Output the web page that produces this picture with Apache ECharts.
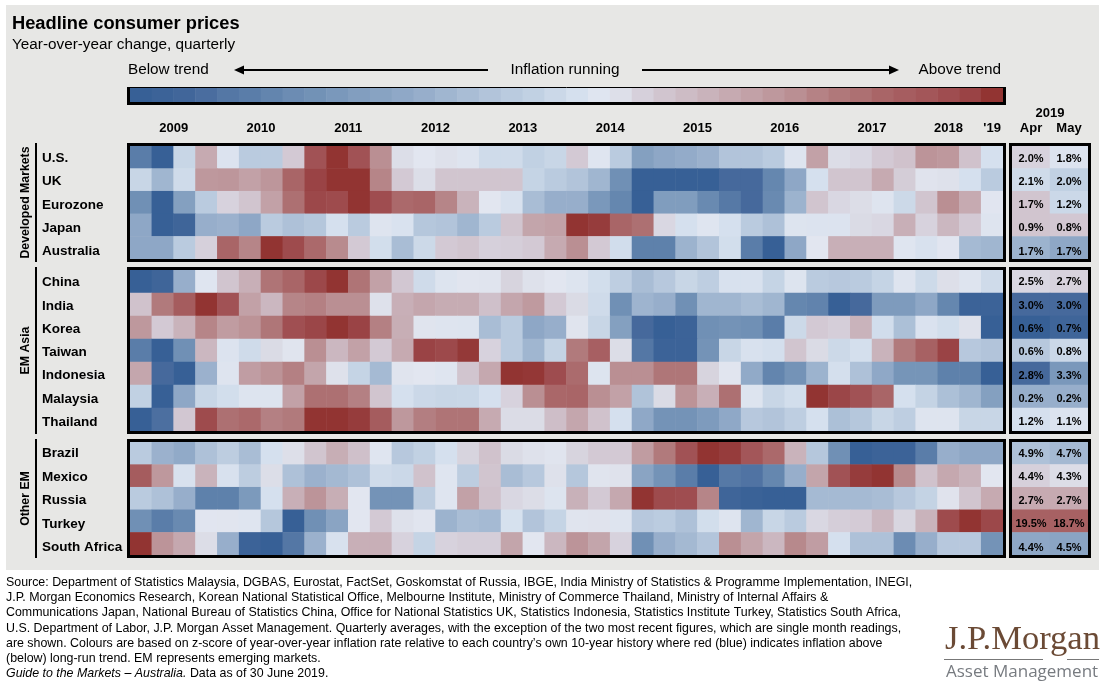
<!DOCTYPE html>
<html><head><meta charset="utf-8">
<style>html,body{margin:0;padding:0;background:#fff}#c{width:1105px;height:686px}</style>
<script src="https://cdn.jsdelivr.net/npm/echarts@6/dist/echarts.min.js"></script>
</head><body><div id="c"></div>
<script>
const developed = ['U.S.','UK','Eurozone','Japan','Australia'];
const emAsia = ['China','India','Korea','Taiwan','Indonesia','Malaysia','Thailand'];
const otherEm = ['Brazil','Mexico','Russia','Turkey','South Africa'];
const yearTicks = [2,6,10,14,18,22,26,30,34,37.5,39.5];
const yearLabels = ['2009','2010','2011','2012','2013','2014','2015','2016','2017','2018',"'19"];
const monthLabels = ['Apr','May'];
const legendZ = [-10,-9.7,-9.3,-8.8,-8.3,-8,-7.6,-7.2,-6.9,-6.5,-6.1,-5.8,-5.4,-5,-4.5,-4,-3.5,-3,-2.5,-1.8,-1,-0.2,0.6,1.6,2.2,2.6,3,3.5,4,4.5,5,5.6,6.1,6.5,7,7.4,7.8,8.3,9,10];
const colorStops = ['#376096','#46699c','#5a7da9','#7090b5','#84a0c0','#97aecb','#a9bdd5','#bacbdf','#c8d6e6','#d5e0ee','#e2e6f0','#dadbe5','#d3c9d4','#c9b3bb','#c2a1a7','#ba8f93','#b17a7c','#a96567','#a15255','#9a4345','#923432'];

const usZ = [-8,-10,-2,3.5,-0.5,-3,-3,2,8,10,8,5,0.7,0,0.5,-0.3,-1.5,-1.5,-2.5,-2,2,-0.2,-3,-6,-5.5,-5.2,-4.8,-3.5,-3.5,-3,-0.3,4,0.8,1.2,2,2.3,4.7,4.5,2.3,-1];
const ukZ = [-2,-4.5,-1.5,4.5,4.6,4,4.6,7,9,10,10,5.5,2,0.7,2.2,2.2,2.2,2.2,-2.2,-3,-3.5,-4.5,-7,-10,-10,-10,-10,-9,-9,-7.5,-5.5,-1,2.2,2.2,3.5,1.8,0.3,0.5,-1,-3];
const eurozoneZ = [-7,-10,-6,-3,1.5,2.2,4,6.5,8.7,8.5,10,8.3,6.8,7,5.5,3,0,-0.8,-4,-5,-5,-6.5,-7.5,-10,-6.2,-6.2,-7.3,-8.2,-9,-7.3,-4.7,2.2,1.2,0.8,-0.3,-1.7,2.2,5,3.5,-0.1];
const japanZ = [-5.5,-10,-9.5,-5,-4.8,-5.5,-3,-3.7,-3.3,-1,-3,-0.3,-0.7,-3.3,-3.5,-4.5,-3,2.2,3.8,4,10,9.5,7,6.5,1.2,-1,-0.2,-1,-3,-3.7,-0.4,-0.5,-0.5,1,1.2,3.2,1.5,2.8,2,-0.3];
const australiaZ = [-5.5,-5.5,-3,1.6,7,5.5,10,8.5,6.8,5.2,2,-1.2,-4,-1.7,2,2.2,1.6,1.7,2,3.5,5,2,-1.3,-7.8,-7.8,-4.7,-3.5,-1.2,-8,-10,-5.5,0,3.2,3.2,3.2,-0.2,-0.8,-0.1,-4.2,-4.5];
const chinaZ = [-10,-9.5,-5,-0.2,2.2,3.2,6.3,7,8.7,10,6.3,4,2.1,-1.5,-0.4,0.1,0.2,1.4,0.5,0,-0.4,-1.2,-2.7,-4,-3.2,-2,-2.7,-0.8,-0.8,-2.2,-0.4,-3,-3.2,-3,-2.2,-0.3,-1.6,0.6,-0.3,-1.5];
const indiaZ = [2.3,6,7.5,10,8,4,2.8,5.5,5.7,5,5,0.5,3.2,3.7,3.4,3.4,2.4,3.7,4.4,2,1,-1.5,-7,-4.6,-5,-7,-4.5,-4.5,-4,-4.5,-7.5,-7.7,-10,-9,-6.3,-6.3,-5.5,-7.5,-9.7,-9.7];
const koreaZ = [4.5,2,3,5.5,4.3,4.8,6.2,8.2,8.8,10,9,5.7,3.3,0.2,-0.3,-0.4,-4,-3,-5.5,-5,0.2,-2,-6,-9,-10,-9.7,-7,-6.8,-7,-8,-1.7,2,1.7,3,-1.3,-3.8,-0.6,-1.2,0.5,-10];
const taiwanZ = [-8,-10,-7,2.8,-0.5,-1.5,1,0.2,5,2.8,4,2,3.5,9,8.6,9.7,1.5,-3,-4.5,-2.3,6,7.3,0.8,-8.3,-9.7,-9.7,-6.8,-2,-0.8,-1.1,2.2,1,-1.7,-1.1,3,6,7.2,9,-3.2,-3.5];
const indonesiaZ = [3.7,-9,-10,-4.8,-0.3,4.2,4.8,5.7,3.8,0.5,-2.2,-4.2,0.2,0,-0.2,2.2,3.6,10,9.8,8.4,6.7,-0.4,5,5,6.2,6.2,1.4,0.1,-5.3,-7.6,-6.8,-4.7,-1.1,-3.7,-5.4,-6.7,-6.7,-7.8,-7.8,-10];
const malaysiaZ = [-2.5,-10,-5.5,-2,-1.2,-0.4,-0.4,4,6.5,6.5,5.7,2.2,-1,-1.8,-2,-1.9,-1,1.5,5,6.9,7,5,4,-3.6,1,4.8,3.2,6.5,-0.4,-2,-1.2,10,8.8,8,7,-1,-2.3,-3.8,-4.5,-6];
const thailandZ = [-10,-8.7,2.1,8.5,6.5,6.8,5.7,6,10,10,9.5,7.5,4.5,5.8,6.3,6.3,3.5,0.9,0.9,2.5,3.7,2.3,-1,-5.4,-6.8,-6.8,-6.3,-5.4,-3.2,-3.5,-2.7,-1,-3.8,-3.3,-2,-2.7,-0.3,-0.3,-2,-2];
const brazilZ = [-3,-4.8,-5.3,-3.7,-2.8,-4,-1,0.6,2.2,3.3,2.4,-0.2,-3.2,-2.5,-1,1.4,2.3,1,0.5,0.2,1.4,2,2,4.3,6,8,10,9.5,7.8,6.8,3,-3.3,-7,-10,-9.7,-9.7,-8,-5,-5.5,-5.5];
const mexicoZ = [7.5,4.5,-0.8,3,-0.8,-2.8,0.7,-3.7,-4.8,-4.3,-3.7,-1.5,-1.8,2.3,-0.2,-2.8,2.2,-4,-3.2,0.5,-3.3,0.2,0.4,-5.7,-6.8,-8,-10,-8.2,-8.5,-7.5,-5,3.8,8,9.5,10,5.2,2.3,3.6,3,0];
const russiaZ = [-3,-3.7,-5,-7.8,-7.8,-6.4,-1,3.2,4.7,3.3,0,-6.8,-6.8,-2.8,-0.2,4,2.3,1.2,0.8,-0.4,3.1,2,3.6,10,8.5,8.3,5.5,-9.5,-9.8,-10,-10,-4.2,-4.2,-4.2,-4,-3.2,-2.3,0.3,2.2,3.5];
const turkeyZ = [-7,-8,-7.3,-0.1,0.1,-0.2,-3.3,-10,-7,-5.7,0,2,0.5,0.1,-4.7,-4,-4.2,-0.9,-3.5,-2.2,0.2,0.3,-0.3,-3.2,-2.9,-3.7,-1.2,-0.3,-4.5,-2,-3,1.2,1.7,1.9,2.8,1.3,3,8.5,10,8.7];
const southAfricaZ = [10,4.7,3.6,0.8,-5,-9.7,-10,-8.3,-4.8,-0.8,3.2,3.2,1.5,-2.2,1.5,1.7,1.7,3.8,0,2.8,4.7,3.8,1.5,-7,-5,-4.3,-3.4,5,3.8,2.8,5.3,4.2,-1,-3.7,-3.7,-7.2,-5,-3.2,-3.2,-6.8];

const developedZ = [usZ,ukZ,eurozoneZ,japanZ,australiaZ];
const emAsiaZ = [chinaZ,indiaZ,koreaZ,taiwanZ,indonesiaZ,malaysiaZ,thailandZ];
const otherEmZ = [brazilZ,mexicoZ,russiaZ,turkeyZ,southAfricaZ];

const developedRecent = [['2.0%','1.8%'],['2.1%','2.0%'],['1.7%','1.2%'],['0.9%','0.8%'],['1.7%','1.7%']];
const emAsiaRecent = [['2.5%','2.7%'],['3.0%','3.0%'],['0.6%','0.7%'],['0.6%','0.8%'],['2.8%','3.3%'],['0.2%','0.2%'],['1.2%','1.1%']];
const otherEmRecent = [['4.9%','4.7%'],['4.4%','4.3%'],['2.7%','2.7%'],['19.5%','18.7%'],['4.4%','4.5%']];
const developedRecentZ = [[1.5,-0.5],[-1.5,-2.5],[2.2,-1.8],[2.2,2.1],[-4.7,-5.5]];
const emAsiaRecentZ = [[1.2,1.5],[-9,-9],[-10,-9.5],[-3.2,-1.8],[-9,-6.5],[-5,-5],[-1,-0.5]];
const otherEmRecentZ = [[-3.7,-4.3],[1.6,0.8],[3.5,3.5],[7.2,7.2],[-5.5,-5.7]];

const sourceLines = [
 'Source: Department of Statistics Malaysia, DGBAS, Eurostat, FactSet, Goskomstat of Russia, IBGE, India Ministry of Statistics & Programme Implementation, INEGI,',
 'J.P. Morgan Economics Research, Korean National Statistical Office, Melbourne Institute, Ministry of Commerce Thailand, Ministry of Internal Affairs &',
 'Communications Japan, National Bureau of Statistics China, Office for National Statistics UK, Statistics Indonesia, Statistics Institute Turkey, Statistics South Africa,',
 'U.S. Department of Labor, J.P. Morgan Asset Management. Quarterly averages, with the exception of the two most recent figures, which are single month readings,',
 'are shown. Colours are based on z-score of year-over-year inflation rate relative to each country\u2019s own 10-year history where red (blue) indicates inflation above',
 '(below) long-run trend. EM represents emerging markets.'
];

const FONT = 'Arial, "Liberation Sans", sans-serif';
const mainL = 130, mainW = 873, sideL = 1012, sideW = 76;
const bands = [
 {names:developed, z:developedZ, rec:developedRecent, recZ:developedRecentZ, top:146, h:113, labelTop:146.9, labelH:116.25, label:'Developed Markets'},
 {names:emAsia, z:emAsiaZ, rec:emAsiaRecent, recZ:emAsiaRecentZ, top:270, h:161, labelTop:270.8, labelH:163.3, label:'EM Asia'},
 {names:otherEm, z:otherEmZ, rec:otherEmRecent, recZ:otherEmRecentZ, top:442, h:113, labelTop:441.75, labelH:117.5, label:'Other EM'}
];
const quarterCats = legendZ.map((_, i) => i);

const grids=[], xAxes=[], yAxes=[], series=[], graphics=[];
const colored=[];
function frame(x,y,w,h,lw){
  graphics.push({type:'rect',z:100,silent:true,shape:{x:x-lw/2,y:y-lw/2,width:w+lw,height:h+lw},style:{fill:'none',stroke:'#000',lineWidth:lw}});
}
function addHeat(d,extra){
  colored.push(series.length);
  series.push(Object.assign({type:'heatmap',xAxisIndex:xAxes.length-1,yAxisIndex:yAxes.length-1,data:d,silent:true,progressive:0},extra||{}));
}
bands.forEach((b,bi)=>{
  grids.push({left:mainL,top:b.top,width:mainW,height:b.h});
  let gi=grids.length-1;
  xAxes.push({type:'category',gridIndex:gi,data:quarterCats,show:false});
  yAxes.push({type:'category',gridIndex:gi,data:b.names,inverse:true,show:false});
  const d=[];
  b.z.forEach((row,r)=>row.forEach((v,c)=>d.push([c,r,v])));
  addHeat(d);
  frame(mainL,b.top,mainW,b.h,3);
  grids.push({left:mainL,top:b.labelTop,width:mainW,height:b.labelH});
  gi=grids.length-1;
  xAxes.push({type:'category',gridIndex:gi,data:quarterCats,show:false});
  yAxes.push({type:'category',gridIndex:gi,data:b.names,inverse:true,
    axisLine:{show:false},axisTick:{show:false},splitLine:{show:false},
    axisLabel:{align:'left',margin:88,color:'#000',fontFamily:FONT,fontWeight:'bold',fontSize:13.5}});
  grids.push({left:sideL,top:b.top,width:sideW,height:b.h});
  gi=grids.length-1;
  xAxes.push(bi===0?{type:'category',gridIndex:gi,data:monthLabels,position:'top',
      name:'2019',nameLocation:'middle',nameGap:26,nameTextStyle:{color:'#000',fontFamily:FONT,fontWeight:'bold',fontSize:13},
      axisLine:{show:false},axisTick:{show:false},
      axisLabel:{margin:11,color:'#000',fontFamily:FONT,fontWeight:'bold',fontSize:13}}
    :{type:'category',gridIndex:gi,data:monthLabels,show:false});
  yAxes.push({type:'category',gridIndex:gi,data:b.names,inverse:true,show:false});
  const s=[];
  b.recZ.forEach((row,r)=>row.forEach((v,c)=>s.push([c,r,v])));
  addHeat(s);
  frame(sideL,b.top,sideW,b.h,3);
  grids.push({left:sideL,top:b.labelTop,width:sideW,height:b.labelH});
  gi=grids.length-1;
  xAxes.push({type:'category',gridIndex:gi,data:monthLabels,show:false});
  yAxes.push({type:'category',gridIndex:gi,data:b.names,inverse:true,show:false});
  const t=[];
  b.rec.forEach((row,r)=>row.forEach((v,c)=>t.push([c,r,v])));
  series.push({type:'scatter',xAxisIndex:xAxes.length-1,yAxisIndex:yAxes.length-1,data:t,symbolSize:1,silent:true,z:5,
    itemStyle:{color:'rgba(0,0,0,0)',opacity:1},
    label:{show:true,position:'inside',opacity:1,formatter:p=>p.data[2],color:'#000',fontFamily:FONT,fontWeight:'bold',fontSize:11}});
  graphics.push({type:'line',shape:{x1:36,y1:b.top-3,x2:36,y2:b.top+b.h+3},style:{stroke:'#000',lineWidth:2}});
  graphics.push({type:'text',x:26,y:b.top+b.h/2,rotation:Math.PI/2,style:{text:b.label,fill:'#000',font:'bold 12.3px '+FONT,align:'center',verticalAlign:'middle'}});
});
xAxes.push({type:'value',gridIndex:0,position:'top',min:0,max:40,
  axisLine:{show:false},axisTick:{show:false},splitLine:{show:false},
  axisLabel:{customValues:yearTicks,margin:11,color:'#000',fontFamily:FONT,fontWeight:'bold',fontSize:13,hideOverlap:false,
    formatter:v=>yearLabels[yearTicks.indexOf(v)]}});
grids.push({left:mainL,top:88,width:mainW,height:14});
const lg=grids.length-1;
xAxes.push({type:'category',gridIndex:lg,data:quarterCats,show:false});
yAxes.push({type:'category',gridIndex:lg,data:['scale'],show:false});
addHeat(legendZ.map((v,i)=>[i,0,v]));

const T=(x,y,text,font,fill,align)=>graphics.push({type:'text',x,y,style:{text,font:font+' '+FONT,fill:fill||'#000',align:align||'left',verticalAlign:'middle'}});
graphics.unshift({type:'rect',z:-10,shape:{x:6,y:5,width:1093,height:565},style:{fill:'#e7e7e5'}});
T(12,23.5,'Headline consumer prices','bold 18.3px');
T(12,44.5,'Year-over-year change, quarterly','15.3px');
T(128,70,'Below trend','15.3px');
T(565,70,'Inflation running','15.3px','#000','center');
T(1001,70,'Above trend','15.3px','#000','right');
graphics.push({type:'line',shape:{x1:240,y1:70,x2:488,y2:70},style:{stroke:'#000',lineWidth:2}});
graphics.push({type:'polygon',shape:{points:[[234,70],[244,65.5],[244,74.5]]},style:{fill:'#000'}});
graphics.push({type:'line',shape:{x1:642,y1:70,x2:893,y2:70},style:{stroke:'#000',lineWidth:2}});
graphics.push({type:'polygon',shape:{points:[[899,70],[889,65.5],[889,74.5]]},style:{fill:'#000'}});
graphics.push({type:'polyline',z:100,shape:{points:[[128.5,87.5],[1004.5,87.5]]},style:{stroke:'#000',lineWidth:1,fill:'none'}});
graphics.push({type:'polyline',z:100,shape:{points:[[128.5,87],[128.5,103.5],[1004.5,103.5],[1004.5,87]]},style:{stroke:'#000',lineWidth:3,fill:'none'}});
sourceLines.forEach((l,i)=>T(6,582.5+i*15.2,l,'12.4px','#000'));
graphics.push({type:'text',x:6,y:673.5,style:{rich:{i:{font:'italic 12.4px '+FONT,fill:'#000'},n:{font:'12.4px '+FONT,fill:'#000'}},text:'{i|Guide to the Markets \u2013 Australia.}{n| Data as of 30 June 2019.}',verticalAlign:'middle'}});
graphics.push({type:'text',x:1100,y:640,style:{text:'J.P.Morgan',font:'34.6px "Liberation Serif", serif',fill:'#6b4a35',align:'right',verticalAlign:'middle'}});
graphics.push({type:'line',shape:{x1:944,y1:659.5,x2:1043,y2:659.5},style:{stroke:'#777',lineWidth:1}});
graphics.push({type:'line',shape:{x1:1067,y1:659.5,x2:1099,y2:659.5},style:{stroke:'#777',lineWidth:1}});
graphics.push({type:'text',x:946,y:672,style:{text:'Asset Management',font:'17px "Open Sans", sans-serif',fill:'#777b80',align:'left',verticalAlign:'middle'}});

const chart=echarts.init(document.getElementById('c'),null,{renderer:'canvas'});
chart.setOption({animation:false,backgroundColor:'#fff',grid:grids,xAxis:xAxes,yAxis:yAxes,
  visualMap:{show:false,type:'continuous',min:-10,max:10,dimension:2,seriesIndex:colored,inRange:{color:colorStops}},
  series,graphic:{elements:graphics}});
</script></body></html>
